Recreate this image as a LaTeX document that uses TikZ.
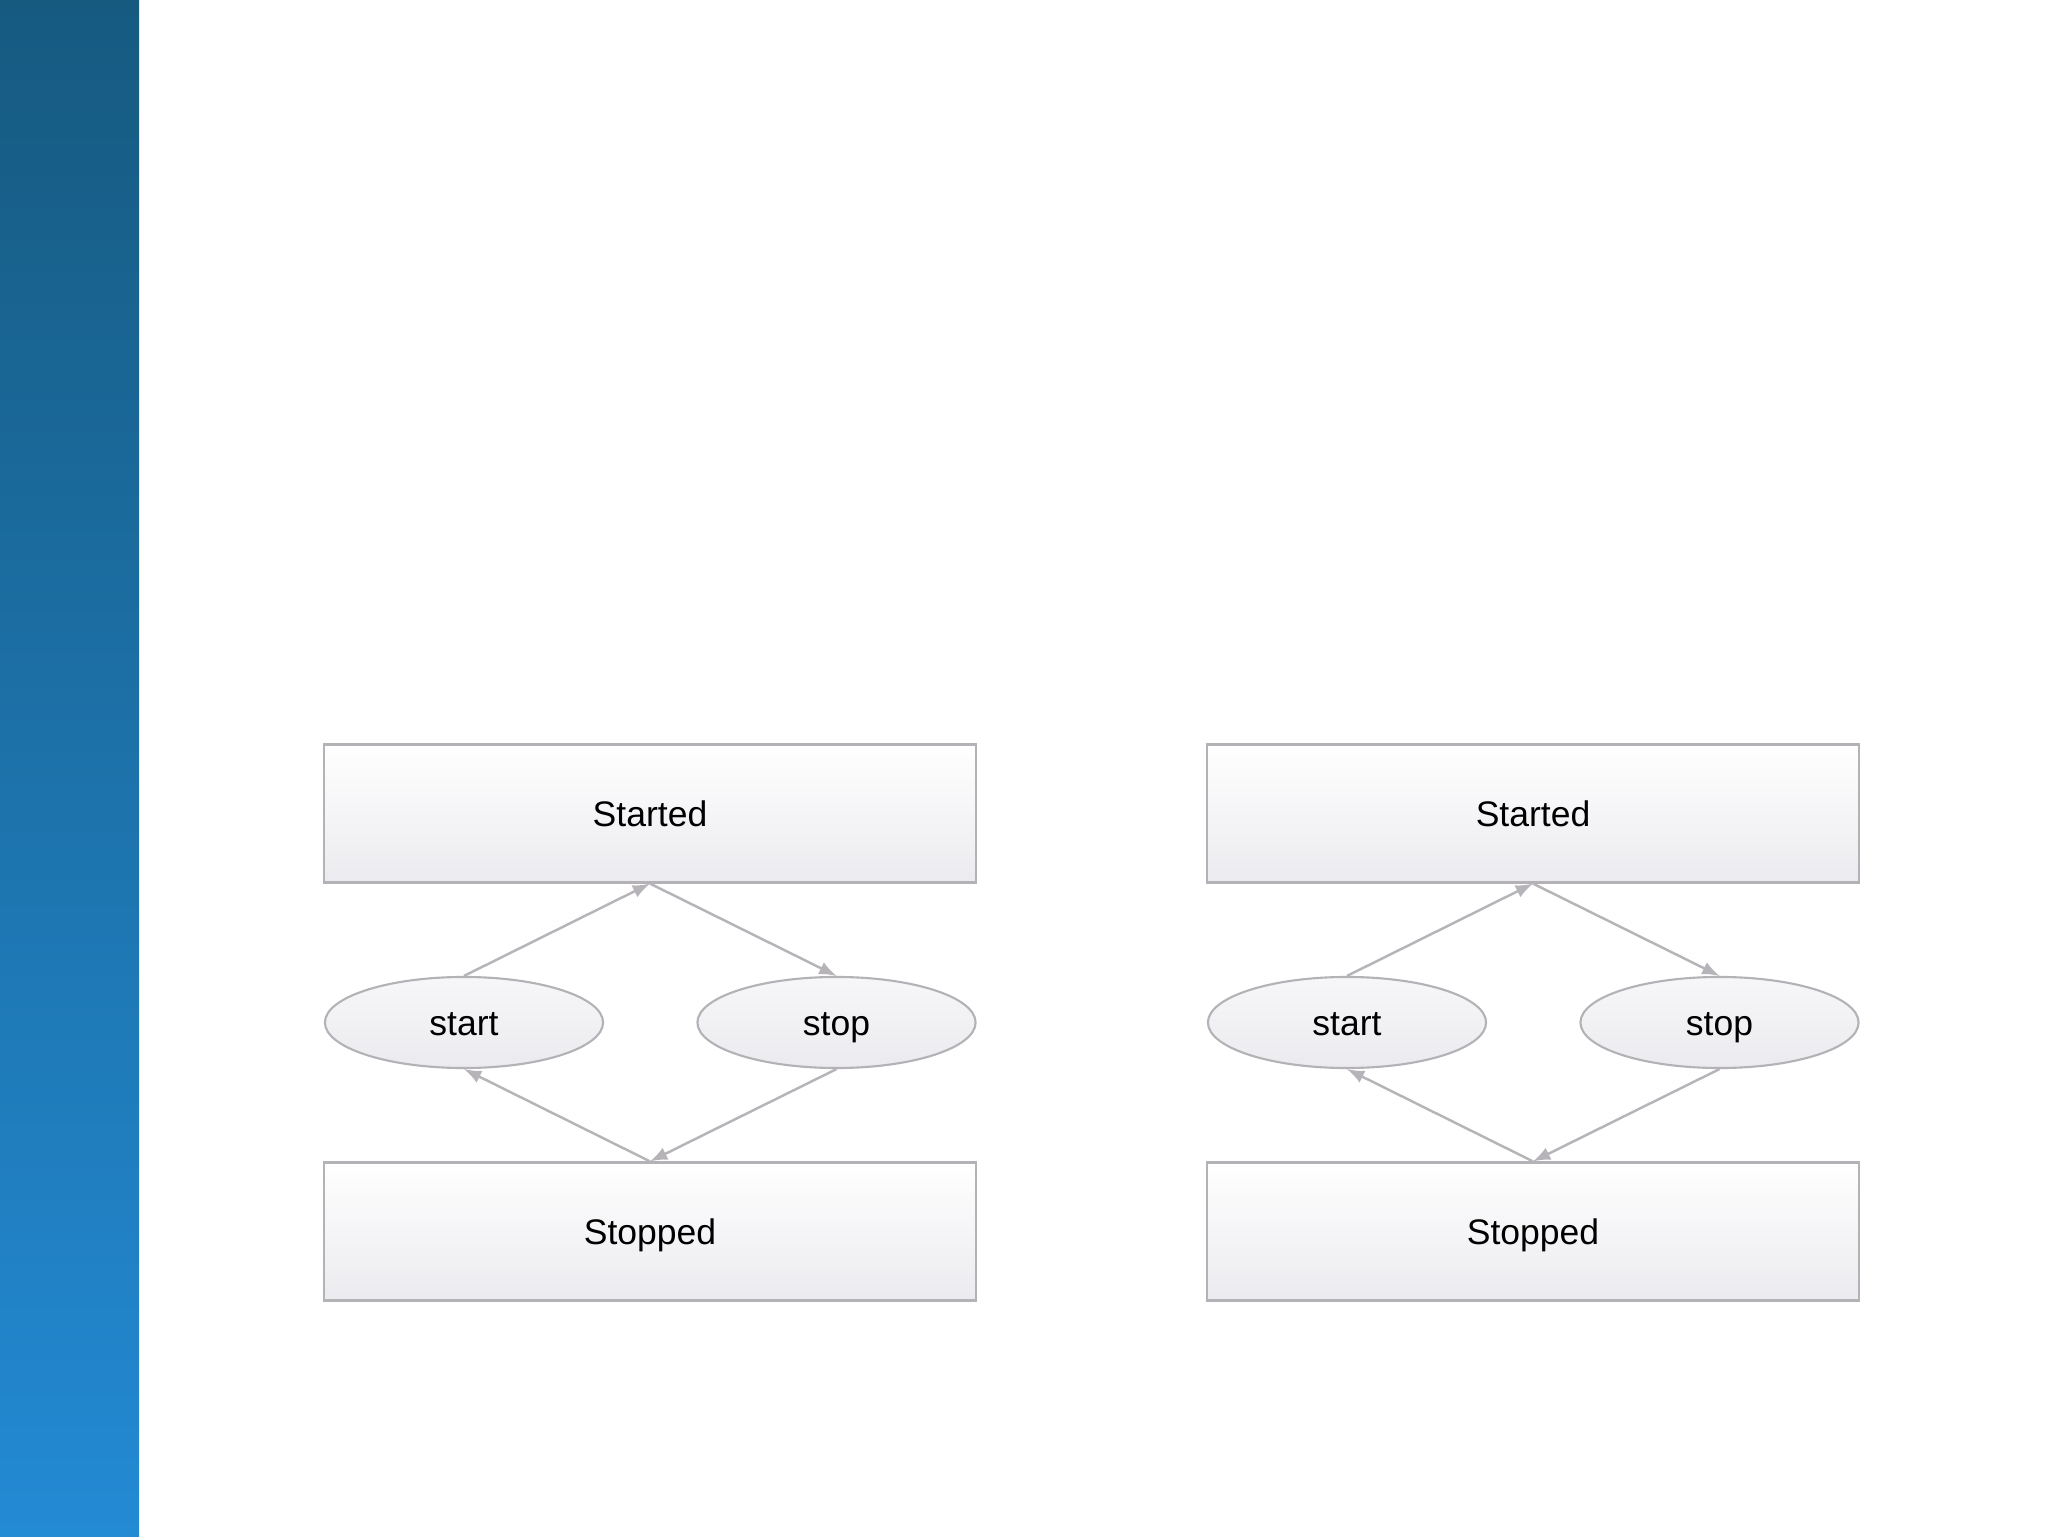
\documentclass[tikz,border=0pt]{standalone}
\usepackage{fontspec}
\setmainfont{Liberation Sans}
\usepackage{tikz}
\usetikzlibrary{arrows}
\usetikzlibrary{shapes.geometric}
\definecolor{bartop}{HTML}{165A80}
\definecolor{barbottom}{HTML}{238AD4}
\definecolor{boxline}{HTML}{B4B2B6}
\definecolor{boxfill}{HTML}{EBEAEE}
\definecolor{linkcolor}{HTML}{B6B4B8}

\begin{document}
\begin{tikzpicture}[x=0.01cm,y=-0.01cm,
  statebox/.style={rectangle,draw=boxline,line width=0.6pt,top color=white,bottom color=boxfill,
    minimum width=6.51cm,minimum height=1.38cm,inner sep=0pt,text height=1.6ex,text depth=0.2ex,
    font=\fontsize{10.1pt}{12pt}\selectfont},
  eventbox/.style={ellipse,draw=boxline,line width=0.6pt,top color=white!60!boxfill,bottom color=boxfill,
    minimum width=2.78cm,minimum height=0.91cm,inner sep=0pt,text height=1.6ex,text depth=0.2ex,
    font=\fontsize{10.1pt}{12pt}\selectfont},
  link/.style={draw=linkcolor,line width=0.7pt,-latex}]
  \useasboundingbox (0,0) rectangle (2048,1537);
  \fill[white] (0,0) rectangle (2048,1537);
  \shade[top color=bartop,bottom color=barbottom] (0,0) rectangle (139,1537);
\foreach \dx in {0,883} {
  \node[statebox] (started\dx) at (650+\dx,813.5) {Started};
  \node[eventbox] (start\dx) at (464+\dx,1022.5) {start};
  \node[eventbox] (stop\dx) at (836.5+\dx,1022.5) {stop};
  \node[statebox] (stopped\dx) at (650+\dx,1231.5) {Stopped};
  \draw[link] (start\dx.north) -- (started\dx.south);
  \draw[link] (started\dx.south) -- (stop\dx.north);
  \draw[link] (stop\dx.south) -- (stopped\dx.north);
  \draw[link] (stopped\dx.north) -- (start\dx.south);
}
\end{tikzpicture}
\end{document}
